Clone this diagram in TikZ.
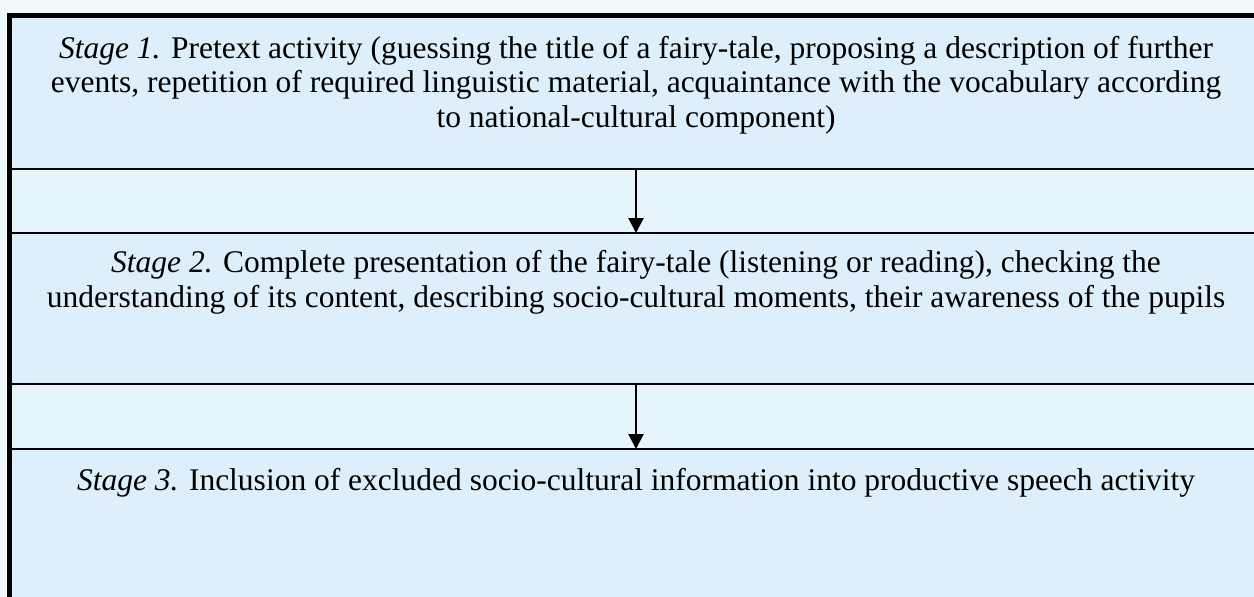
\documentclass[tikz,border=0pt]{standalone}
\usepackage{fontspec}
\setmainfont{Liberation Serif}
\usetikzlibrary{arrows.meta}
\definecolor{outerbg}{RGB}{240,248,252}
\definecolor{boxfill}{RGB}{221,239,250}
\definecolor{gapfill}{RGB}{230,245,252}
\begin{document}
\begin{tikzpicture}[x=1pt,y=-1pt,
  stagebox/.style={draw=none,fill=boxfill,minimum width=1248pt,anchor=north west,inner sep=0pt,outer sep=0pt},
  stagetext/.style={anchor=base,inner sep=0pt,align=center,font=\fontsize{31.5}{34.5}\selectfont},
  sepline/.style={line width=2pt},
  flow/.style={line width=2.5pt,-{Triangle[length=15pt,width=15pt]},shorten >=0pt}
]
\useasboundingbox (0,0) rectangle (1254,597);
\clip (0,0) rectangle (1254,597);
\fill[outerbg] (0,0) rectangle (1254,597);
\fill[gapfill] (9.5,15.5) rectangle (1270,610);
\node[stagebox,minimum height=151pt] (s1) at (12,17.5) {};
\node[stagebox,minimum height=151pt] (s2) at (12,233) {};
\node[stagebox,minimum height=160pt] (s3) at (12,449) {};
\draw[sepline] (s1.south west) -- (s1.south east);
\draw[sepline] (s2.north west) -- (s2.north east);
\draw[sepline] (s2.south west) -- (s2.south east);
\draw[sepline] (s3.north west) -- (s3.north east);
\draw[line width=4.5pt] (9.5,700) -- (9.5,15.5) -- (1300,15.5);
\draw[flow] (s1.south) -- (s2.north);
\draw[flow] (s2.south) -- (s3.north);
\node[stagetext] (t1) at (636,127) {\textit{Stage 1.} Pretext activity (guessing the title of a fairy-tale, proposing a description of further\\
events, repetition of required linguistic material, acquaintance with the vocabulary according\\
to national-cultural component)};
\node[stagetext] (t2) at (636,307) {\textit{Stage 2.} Complete presentation of the fairy-tale (listening or reading), checking the\\
understanding of its content, describing socio-cultural moments, their awareness of the pupils};
\node[stagetext] (t3) at (636,490) {\textit{Stage 3.} Inclusion of excluded socio-cultural information into productive speech activity};
\end{tikzpicture}
\end{document}
